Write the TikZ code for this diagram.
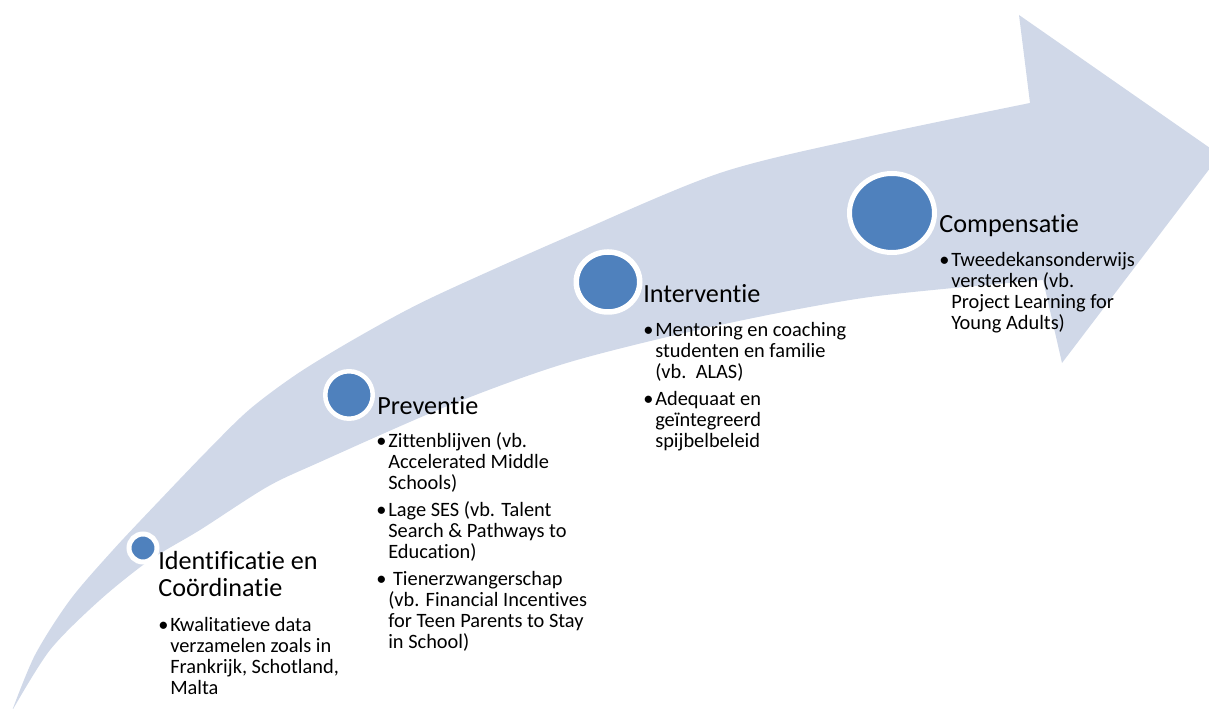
\documentclass[tikz,border=0pt]{standalone}
\usepackage{fontspec}
\setmainfont{Carlito}[Ligatures={NoCommon,NoContextual}]
\usetikzlibrary{shapes.geometric}
\definecolor{arrowfill}{RGB}{208,216,232}
\definecolor{dotblue}{RGB}{79,129,189}

\newcommand{\headtext}[1]{\parbox[t]{5cm}{\fontsize{14.9}{15.1}\selectfont #1}}
\newcommand{\bodytext}[1]{\parbox[t]{6cm}{\fontsize{11.6}{11.95}\selectfont\setlength{\parskip}{3.2pt}#1}}
\newcommand{\bitem}[1]{\hangindent=6.8pt\hangafter=1\noindent\makebox[6.8pt][l]{\textbullet}#1\par}

\begin{document}
\begin{tikzpicture}[
    dot/.style={ellipse, fill=dotblue, draw=white, inner sep=0},
    stagehead/.style={anchor=base west, inner sep=0},
    stagebody/.style={anchor=base west, inner sep=0}
]
    % Frame
    \useasboundingbox (0,0) rectangle (24.18,14.18);
    \clip (0,0) rectangle (24.18,14.18);

    % Curved arrow
    \fill[arrowfill] plot[smooth] coordinates {(0.24,-0.04) (0.70,1.08) (1.40,2.18) (2.26,3.18) (3.20,4.18) (4.16,5.18) (5.00,6.00) (6.00,6.74) (7.30,7.52) (8.66,8.24) (11.34,9.44) (14.40,10.72) (17.34,11.44) (20.60,12.12)}
        -- (20.38,13.88) -- (24.40,11.08) -- (21.24,6.92)
        -- plot[smooth] coordinates {(20.86,8.58) (17.40,8.24) (14.40,7.68) (11.40,6.94) (9.00,6.08) (6.40,4.94) (5.34,4.44) (4.00,3.58) (3.00,2.98) (2.00,2.18) (1.00,1.18) (0.24,-0.04)}
        -- cycle;

    % Stage dots
    \node[dot, line width=0.1cm, minimum width=0.56cm, minimum height=0.56cm] (c1) at (2.86,3.22) {};
    \node[dot, line width=0.09cm, minimum width=0.95cm, minimum height=0.95cm] (c2) at (6.98,6.28) {};
    \node[dot, line width=0.11cm, minimum width=1.27cm, minimum height=1.20cm] (c3) at (12.16,8.54) {};
    \node[dot, line width=0.1cm, minimum width=1.70cm, minimum height=1.58cm] (c4) at (17.84,9.92) {};

    % Identificatie
    \node[stagehead] (h1) at (3.16,2.78) {\headtext{Identificatie en\\Coördinatie}};
    \node[stagebody] (b1) at (3.16,1.54) {\bodytext{%
        \bitem{Kwalitatieve data\\verzamelen zoals in\\Frankrijk, Schotland,\\Malta}}};

    % Preventie
    \node[stagehead] (h2) at (7.54,5.88) {\headtext{Preventie}};
    \node[stagebody] (b2) at (7.52,5.22) {\bodytext{%
        \bitem{Zittenblijven (vb.\\Accelerated Middle\\Schools)}
        \bitem{Lage SES (vb. Talent\\Search \& Pathways to\\Education)}
        \bitem{\hspace{2.7pt}Tienerzwangerschap\\(vb. Financial Incentives\\for Teen Parents to Stay\\in School)}}};

    % Interventie
    \node[stagehead] (h3) at (12.86,8.12) {\headtext{Interventie}};
    \node[stagebody] (b3) at (12.86,7.44) {\bodytext{%
        \bitem{Mentoring en coaching\\studenten en familie\\(vb.~~ALAS)}
        \bitem{Adequaat en\\geïntegreerd\\spijbelbeleid}}};

    % Compensatie
    \node[stagehead] (h4) at (18.78,9.52) {\headtext{Compensatie}};
    \node[stagebody] (b4) at (18.78,8.84) {\bodytext{%
        \bitem{Tweedekansonderwijs\\versterken (vb.\\Project Learning for\\Young Adults)}}};
\end{tikzpicture}
\end{document}
